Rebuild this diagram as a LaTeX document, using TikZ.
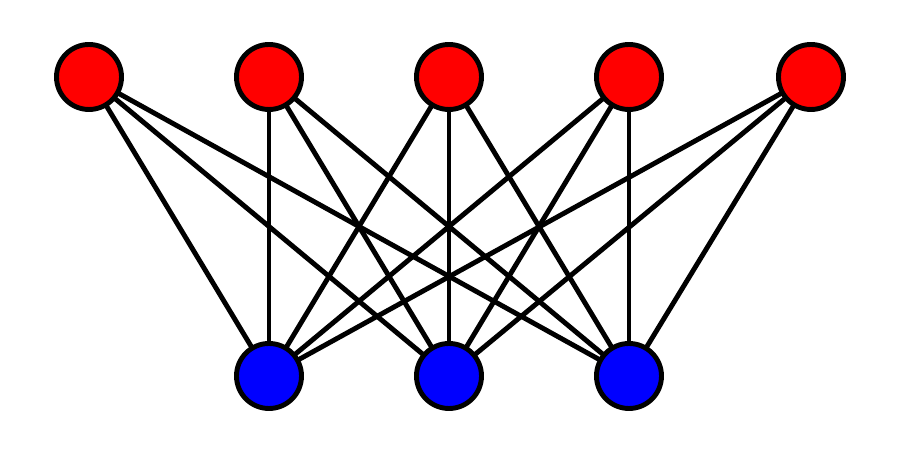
\documentclass[tikz,border=0pt]{standalone}
\usetikzlibrary{backgrounds}

\tikzset{
  vert/.style={circle, draw=black, line width=2.8pt, minimum size=1.3cm, inner sep=0pt},
  topvert/.style={vert, fill=red},
  botvert/.style={vert, fill=blue},
  edge/.style={line width=2.8pt}
}

\begin{document}
\begin{tikzpicture}[]
        \useasboundingbox (0,0) rectangle (18,9.22);
        % draw top row
        \foreach \x [count=\i] in {89, 269, 449, 629, 811}{
          \node[topvert] (t\i) at (\x/50,7.68) {};
        }
        % draw bottom row
        \foreach \x [count=\j] in {269, 449, 629}{
          \node[botvert] (b\j) at (\x/50,1.70) {};
        }
        % draw edges
        \begin{scope}[on background layer]
        \foreach \i in {1,...,5}{
          \foreach \j in {1,2,3}{
            \draw[edge] (t\i.center) -- (b\j.center);
          }
        }
        \end{scope}
      \end{tikzpicture}
\end{document}
